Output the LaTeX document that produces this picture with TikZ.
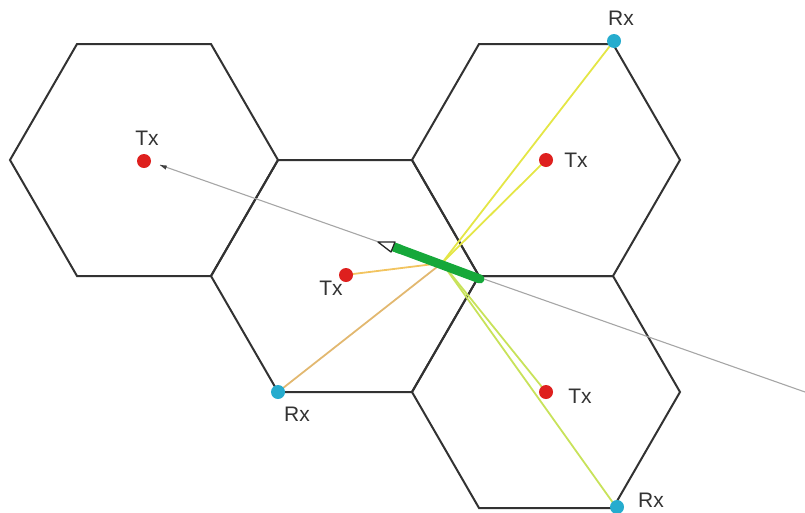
\documentclass[tikz,border=0pt]{standalone}
\usepackage{fontspec}
\setmainfont{Liberation Sans}
\usetikzlibrary{calc}
\definecolor{txred}{RGB}{222,32,30}
\definecolor{rxcyan}{RGB}{38,172,206}
\definecolor{raYellow}{RGB}{228,230,70}
\definecolor{raLime}{RGB}{200,226,90}
\definecolor{raOrange}{RGB}{242,196,96}
\definecolor{raTan}{RGB}{226,184,112}
\definecolor{wallgreen}{RGB}{22,168,58}
\definecolor{hexline}{RGB}{50,50,50}
\begin{document}
\begin{tikzpicture}[x=1pt,y=-1pt,
  cell/.style={draw=hexline, line width=2pt, line join=miter},
  txdot/.style={circle, fill=txred, inner sep=0pt, minimum size=14pt},
  rxdot/.style={circle, fill=rxcyan, inner sep=0pt, minimum size=14pt},
  lbl/.style={font=\fontsize{21}{24}\selectfont, text=black!80, inner sep=1pt},
  ray/.style={line width=1.8pt},
  yray/.style={ray, draw=raYellow},
  gyray/.style={ray, draw=raLime},
  oray/.style={ray, draw=raOrange},
  tray/.style={ray, draw=raTan},
]
\useasboundingbox (0,0) rectangle (805,512);

% hexagonal cells (flat top, side 134)
\foreach \cx/\cy/\n in {144/160/A, 345/276/B, 546/160/C, 546/392/D}{
  \coordinate (\n) at (\cx,\cy);
  \draw[cell] (\cx-134,\cy) -- (\cx-67,\cy-116) -- (\cx+67,\cy-116)
    -- (\cx+134,\cy) -- (\cx+67,\cy+116) -- (\cx-67,\cy+116) -- cycle;
}

% reflection point on the wall segment
\coordinate (P) at (442,263);
\coordinate (w1) at (394,247);
\coordinate (w2) at (480,279);
\coordinate (tip) at (378,242);
\coordinate (far) at (805,392);
\coordinate (arr) at (160,165);

% rays from the reflection point
\draw[tray] (278,392) -- (P);
\draw[oray] (345,275) -- (P);
\draw[yray] (P) -- (613,42);
\draw[yray] (P) -- (546,160);
\draw[gyray] (P) -- (546,392);
\draw[gyray] (P) -- (616,507);

% gray direction line with small arrow
\draw[black!35, line width=1.1pt] (far) -- (arr);
\fill[black!75] (arr) -- ++(7,0.6) -- ++(-1.4,4) -- cycle;

% wall segment drawn as a pencil
\draw[wallgreen, line width=9pt, line cap=round] (w1) -- (w2);
\filldraw[fill=white, draw=black!85, line width=1.3pt, line join=round]
  (tip) -- (395,242) -- (391,252) -- cycle;
\draw[wallgreen, line width=9pt] (w1) -- ($(w1)!0.08!(w2)$);

% transmitters
\node[txdot] (t1) at (144,161) {};
\node[txdot] (t2) at (346,275) {};
\node[txdot] (t3) at (546,160) {};
\node[txdot] (t4) at (546,392) {};
\node[lbl] (l1) at (147,138) {Tx};
\node[lbl] (l2) at (331,288) {Tx};
\node[lbl] (l3) at (576,160) {Tx};
\node[lbl] (l4) at (580,396) {Tx};

% receivers
\node[rxdot] (r1) at (614,41) {};
\node[rxdot] (r2) at (278,392) {};
\node[rxdot] (r3) at (617,507) {};
\node[lbl] (m1) at (621,18) {Rx};
\node[lbl] (m2) at (297,414) {Rx};
\node[lbl] (m3) at (651,500) {Rx};
\end{tikzpicture}
\end{document}
